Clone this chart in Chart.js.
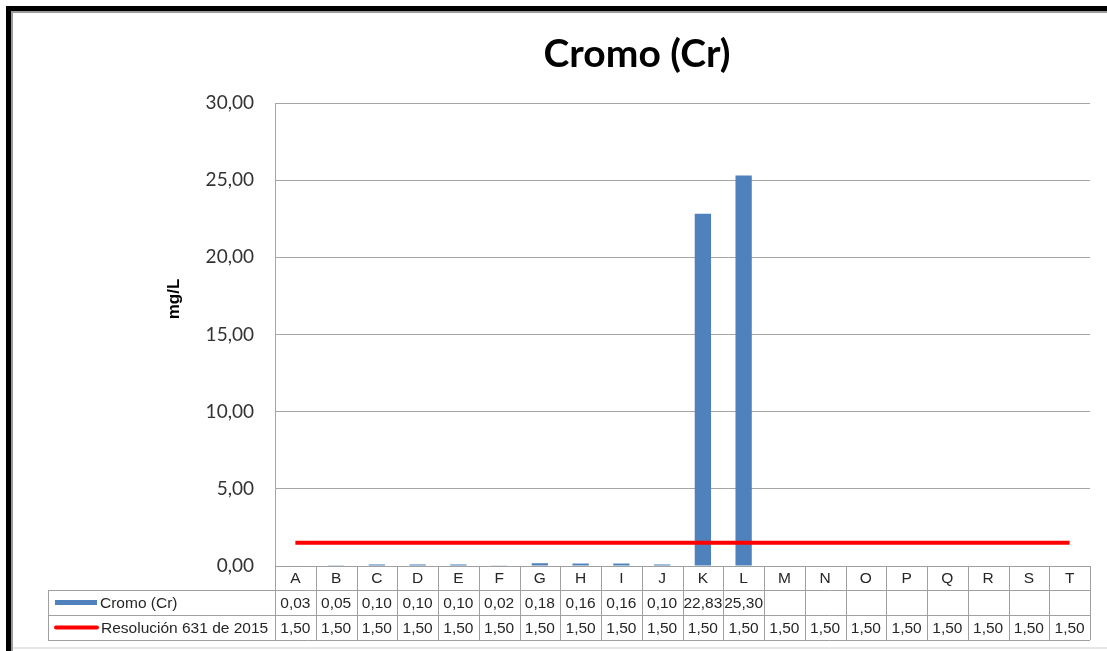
<!DOCTYPE html>
<html>
<head>
<meta charset="utf-8">
<script src="https://cdn.jsdelivr.net/npm/chart.js@4"></script>
<style>
  html, body { margin: 0; padding: 0; background: #fff; }
  canvas { display: block; }
</style>
</head>
<body>
<canvas id="graficaCromo" width="1107" height="651"></canvas>
<script>
const categorias = ['A', 'B', 'C', 'D', 'E', 'F', 'G', 'H', 'I', 'J', 'K', 'L', 'M', 'N', 'O', 'P', 'Q', 'R', 'S', 'T'];
const cromo = [0.03, 0.05, 0.10, 0.10, 0.10, 0.02, 0.18, 0.16, 0.16, 0.10, 22.83, 25.30, null, null, null, null, null, null, null, null];
const resolucion = [1.5, 1.5, 1.5, 1.5, 1.5, 1.5, 1.5, 1.5, 1.5, 1.5, 1.5, 1.5, 1.5, 1.5, 1.5, 1.5, 1.5, 1.5, 1.5, 1.5];
const nombreCromo = 'Cromo (Cr)';
const nombreResolucion = 'Resolución 631 de 2015';

const AZUL = '#4F81BD';
const ROJO = '#FF0000';

function formatoComa(v) {
    return v.toFixed(2).replace('.', ',');
}

const tablaPlugin = {
    id: 'tabla',
    beforeDraw(chart) {
        const ctx = chart.ctx;
        ctx.save();
        ctx.fillStyle = '#fff';
        ctx.fillRect(0, 0, chart.width, chart.height);
        // marco
        ctx.fillStyle = '#000';
        ctx.fillRect(6, 6, chart.width - 6, 5);
        ctx.fillRect(6, 6, 5, chart.height - 6);
        ctx.fillStyle = '#9a9a9a';
        ctx.fillRect(11, 11, chart.width - 11, 2);
        ctx.fillRect(11, 11, 2, chart.height - 11);
        ctx.fillStyle = '#e6e6e6';
        ctx.fillRect(13, 647, chart.width - 13, 2);
        ctx.restore();
    },
    afterDraw(chart) {
        const ctx = chart.ctx;
        const x = chart.scales.x;
        const area = chart.chartArea;
        const mitad = (x.getPixelForValue(1) - x.getPixelForValue(0)) / 2;
        const izq = 48;
        const fila0 = area.bottom;
        const fila1 = fila0 + 24;
        const fila2 = fila1 + 25;
        const fila3 = fila2 + 25;

        ctx.save();
        ctx.strokeStyle = '#a0a0a0';
        ctx.lineWidth = 1;
        ctx.beginPath();
        // horizontales
        ctx.moveTo(area.left, fila0 + 0.5); ctx.lineTo(area.right, fila0 + 0.5);
        [fila1, fila2, fila3].forEach(y => {
            ctx.moveTo(izq, y + 0.5); ctx.lineTo(area.right, y + 0.5);
        });
        // verticales
        ctx.moveTo(izq + 0.5, fila1); ctx.lineTo(izq + 0.5, fila3);
        for (let i = 0; i <= categorias.length; i++) {
            const bx = Math.round(x.getPixelForValue(i) - mitad) + 0.5;
            ctx.moveTo(bx, fila0); ctx.lineTo(bx, fila3);
        }
        ctx.stroke();

        // textos
        ctx.fillStyle = '#262626';
        ctx.font = '15.5px "Liberation Sans", Arial, sans-serif';
        ctx.textAlign = 'center';
        ctx.textBaseline = 'middle';
        categorias.forEach((c, i) => {
            const cx = x.getPixelForValue(i);
            ctx.fillText(c, cx, (fila0 + fila1) / 2 + 1);
            if (cromo[i] !== null) {
                ctx.fillText(formatoComa(cromo[i]), cx, (fila1 + fila2) / 2 + 1);
            }
            ctx.fillText(formatoComa(resolucion[i]), cx, (fila2 + fila3) / 2 + 1);
        });

        // leyenda en la tabla
        ctx.textAlign = 'left';
        ctx.fillText(nombreCromo, 100, (fila1 + fila2) / 2 + 1);
        ctx.fillText(nombreResolucion, 101, (fila2 + fila3) / 2 + 1);
        ctx.fillStyle = AZUL;
        ctx.fillRect(55, (fila1 + fila2) / 2 - 2.5, 42, 5);
        ctx.strokeStyle = ROJO;
        ctx.lineWidth = 4;
        ctx.lineCap = 'round';
        ctx.beginPath();
        ctx.moveTo(56, (fila2 + fila3) / 2);
        ctx.lineTo(97, (fila2 + fila3) / 2);
        ctx.stroke();

        // titulo
        ctx.fillStyle = '#000';
        ctx.textAlign = 'center';
        ctx.textBaseline = 'alphabetic';
        ctx.font = 'bold 39px Lato, "Liberation Sans", sans-serif';
        ctx.fillText('Cromo (Cr)', 637, 67);

        // titulo eje y
        ctx.translate(174, 299);
        ctx.rotate(-Math.PI / 2);
        ctx.textBaseline = 'middle';
        ctx.font = 'bold 17px "Liberation Sans", Arial, sans-serif';
        ctx.fillText('mg/L', 0, 0);
        ctx.restore();
    }
};

const ctx = document.getElementById('graficaCromo').getContext('2d');

const grafico = new Chart(ctx, {
    type: 'bar',
    data: {
        labels: categorias,
        datasets: [
            {
                type: 'line',
                label: nombreResolucion,
                data: resolucion,
                borderColor: ROJO,
                borderWidth: 4,
                pointRadius: 0,
                fill: false,
                order: 0
            },
            {
                label: nombreCromo,
                data: cromo,
                backgroundColor: AZUL,
                barPercentage: 0.4,
                categoryPercentage: 1,
                order: 1
            }
        ]
    },
    options: {
        responsive: false,
        devicePixelRatio: 1,
        animation: false,
        layout: {
            padding: { top: 103, right: 17, left: 0, bottom: 0 }
        },
        plugins: {
            legend: { display: false },
            title: { display: false },
            tooltip: { enabled: false }
        },
        scales: {
            x: {
                grid: { display: false },
                border: { display: false },
                ticks: { display: false },
                afterFit(scale) { scale.height = 85; }
            },
            y: {
                min: 0,
                max: 30,
                ticks: {
                    stepSize: 5,
                    padding: 21,
                    color: '#333',
                    font: { family: 'Lato, "Liberation Sans", sans-serif', size: 19 },
                    callback: v => formatoComa(v)
                },
                grid: { color: '#a6a6a6', drawTicks: false },
                border: { color: '#a6a6a6' },
                afterFit(scale) { scale.width = 275; }
            }
        }
    },
    plugins: [tablaPlugin]
});
</script>
</body>
</html>
